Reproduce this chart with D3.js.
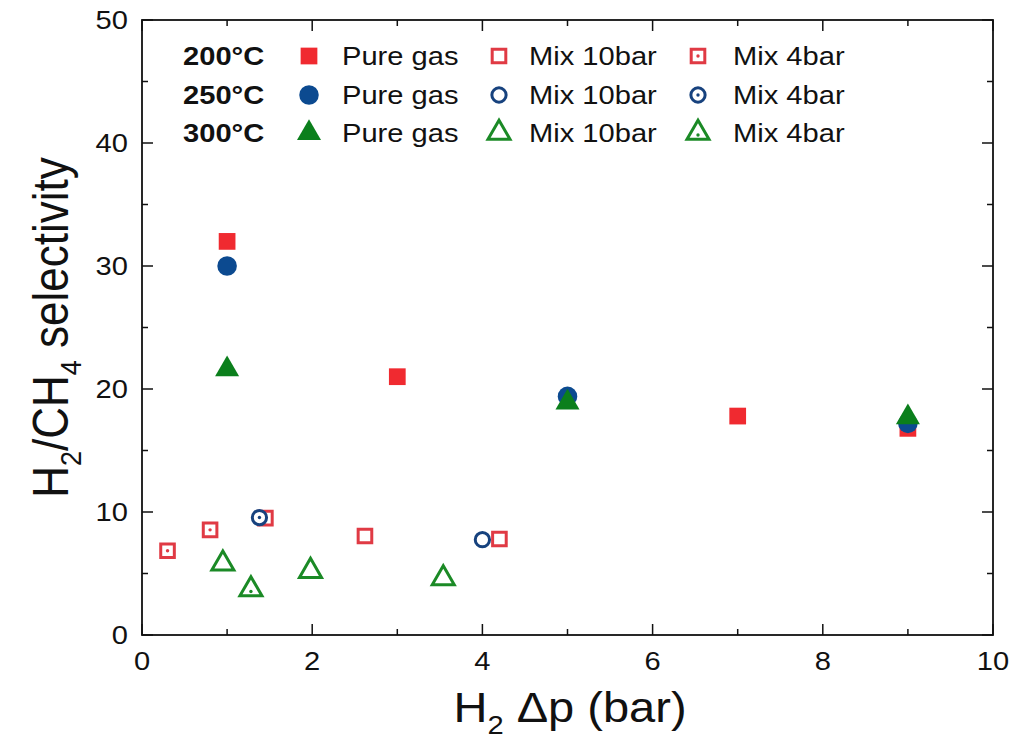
<!DOCTYPE html>
<html><head><meta charset="utf-8">
<script src="https://cdn.jsdelivr.net/npm/d3@7/dist/d3.min.js"></script>
<style>body{margin:0;background:#fff}svg{display:block}text{font-family:"Liberation Sans",Arial,sans-serif}</style>
</head><body>
<svg id="c" width="1024" height="742"></svg>
<script>
// ---- data ----
const xTicks = [0,2,4,6,8,10];
const yTicks = [0,10,20,30,40,50];
const temps = ["200°C","250°C","300°C"];
const kinds = ["Pure gas","Mix 10bar","Mix 4bar"];
const pure200 = [[1,32],[3,21],[7,17.8],[9,16.8]];
const pure250 = [[1,30],[5,19.4],[9,17.2]];
const pure300 = [[1,21.6],[5,18.9],[9,17.7]];
const mix10_200 = [[2.62,8.05],[4.2,7.8]];
const mix10_250 = [[4.0,7.75]];
const mix10_300 = [[0.95,5.8],[1.98,5.2],[3.54,4.6]];
const mix4_200 = [[0.3,6.85],[0.8,8.55],[1.45,9.5]];
const mix4_250 = [[1.38,9.55]];
const mix4_300 = [[1.28,3.7]];

const SX = 1.12;
const svg = d3.select("#c");
const L=142,R=993,T=20,B=635;
const x = d3.scaleLinear().domain([0,10]).range([L,R]);
const y = d3.scaleLinear().domain([0,50]).range([B,T]);

const fill = ["#f02a30","#0c4a90","#0b7f1c"];
const stroke = ["#e03a44","#17427e","#1b8a26"];

function txt(g,str,px,py,size,anchor,weight){
  return g.append("text").attr("transform",`translate(${px},${py}) scale(${SX},1)`)
    .attr("font-size",size).attr("text-anchor",anchor||"start")
    .attr("font-weight",weight||"normal").attr("fill","#111").text(str);
}

// axes frame & ticks
const ax = svg.append("g");
const xMinor = d3.range(0,10.01,1), yMinor = d3.range(0,50.01,5);
xMinor.forEach(v=>{
  const len = (v%2===0)?11:6;
  ax.append("line").attr("x1",x(v)).attr("x2",x(v)).attr("y1",B).attr("y2",B-len).attr("stroke","#111").attr("stroke-width",1.5);
  ax.append("line").attr("x1",x(v)).attr("x2",x(v)).attr("y1",T).attr("y2",T+len).attr("stroke","#111").attr("stroke-width",1.5);
});
yMinor.forEach(v=>{
  const len = (v%10===0)?11:6;
  ax.append("line").attr("y1",y(v)).attr("y2",y(v)).attr("x1",L).attr("x2",L+len).attr("stroke","#111").attr("stroke-width",1.5);
  ax.append("line").attr("y1",y(v)).attr("y2",y(v)).attr("x1",R).attr("x2",R-len).attr("stroke","#111").attr("stroke-width",1.5);
});
ax.append("rect").attr("x",L).attr("y",T).attr("width",R-L).attr("height",B-T).attr("fill","none").attr("stroke","#111").attr("stroke-width",1.8);

xTicks.forEach(v=>txt(ax,String(v),x(v),670,26,"middle"));
yTicks.forEach(v=>txt(ax,String(v),128,y(v)+9,26,"end"));

// axis titles
const xt = svg.append("text").attr("transform",`translate(570,722) scale(${SX},1)`).attr("font-size",42).attr("text-anchor","middle").attr("fill","#111");
xt.append("tspan").text("H");
xt.append("tspan").attr("font-size",26).attr("dy",12).text("2");
xt.append("tspan").attr("dy",-12).text(" Δp (bar)");

const yt = svg.append("text").attr("transform",`translate(68,${(T+B)/2}) rotate(-90) scale(1,${SX})`).attr("font-size",44).attr("text-anchor","middle").attr("fill","#111");
yt.append("tspan").text("H");
yt.append("tspan").attr("font-size",27).attr("dy",12).text("2");
yt.append("tspan").attr("dy",-12).text("/CH");
yt.append("tspan").attr("font-size",27).attr("dy",12).text("4");
yt.append("tspan").attr("dy",-12).text(" selectivity");

// symbols
const shapes = [d3.symbolSquare, d3.symbolCircle, d3.symbolTriangle];
const fillSize = [280, 300, 250];
const openSize = [185, 160, 210];
function marker(g, ti, kind, cx, cy){
  const sg = g.append("g").attr("transform",`translate(${cx},${cy})`);
  if(kind===0){
    sg.append("path").attr("d",d3.symbol(shapes[ti],fillSize[ti])()).attr("fill",fill[ti]);
  } else {
    sg.append("path").attr("d",d3.symbol(shapes[ti],openSize[ti])()).attr("fill","#fff").attr("stroke",stroke[ti]).attr("stroke-width",3);
    if(kind===2) sg.append("circle").attr("cx",0).attr("cy",ti===2?2:0).attr("r",1.7).attr("fill",stroke[ti]);
  }
}

const series = [
  [mix4_200,0,2],[mix10_200,0,1],[pure200,0,0],
  [mix4_250,1,2],[mix10_250,1,1],[pure250,1,0],
  [mix4_300,2,2],[mix10_300,2,1],[pure300,2,0]
];
const pg = svg.append("g");
series.forEach(([data,ti,kind])=>{
  data.forEach(d=>marker(pg,ti,kind,x(d[0]),y(d[1])));
});

// legend
const lg = svg.append("g");
const rowY = [56,95,133];
const markX = [309,499,698];
const labX = [342,529,733];
temps.forEach((t,ti)=>{
  txt(lg,t,183,rowY[ti]+9,26,"start","bold");
  kinds.forEach((k,ki)=>{
    marker(lg,ti,ki,markX[ki],rowY[ti]);
    txt(lg,k,labX[ki],rowY[ti]+9,26,"start");
  });
});
</script>
</body></html>
